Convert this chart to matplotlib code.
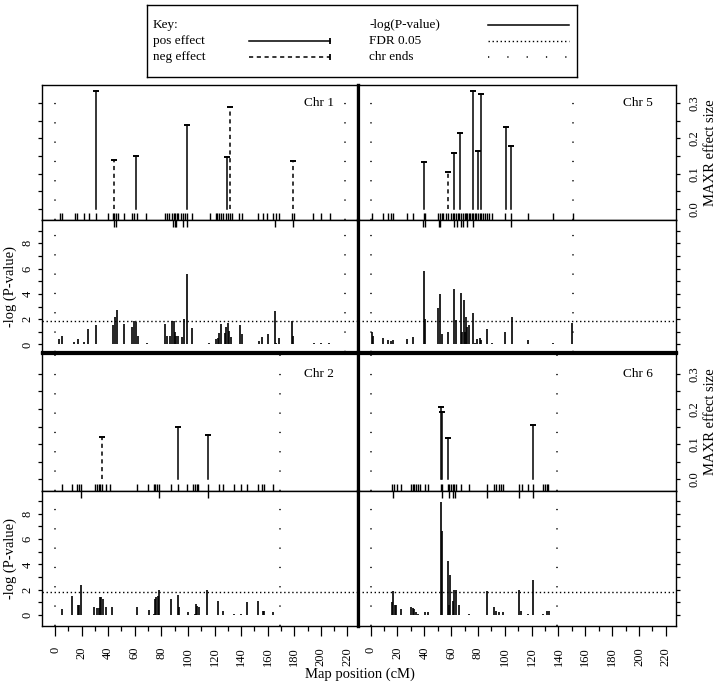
import matplotlib.pyplot as plt
import numpy as np
from matplotlib.ticker import FixedLocator, MultipleLocator, FormatStrFormatter

plt.rcParams['font.family'] = ['Liberation Serif', 'DejaVu Serif']
plt.rcParams['lines.scale_dashes'] = False
plt.rcParams['font.size'] = 9

# ---------------- data (positions in cM) ----------------
FDR = 1.85

chr1_markers = [3.5, 5.5, 15, 16.8, 21.7, 25.5, 30.5, 40, 43.7, 44.7, 45.7, 47.2, 52.2, 58, 59.7,
                61.7, 68.7, 82.9, 84.2, 85.4, 87.9, 89.2, 90.4, 91.7, 92.9, 94.7, 96.2, 97.9, 99.2,
                103.4, 116.6, 120.9, 122.1, 123.4, 124.6, 126.6, 128.4, 129.9, 131.6, 133.3, 138.4,
                140.4, 153.1, 156.6, 159.6, 164, 166.1, 168.5, 178.3, 179.5, 194, 200.3, 207]
chr1_lower_ticks = [44.7, 46.2, 88.7, 90, 91.2, 96.5, 99.2, 165.6, 179]
chr1_scan_cm = [3.3, 5.3, 14.5, 17, 22, 25, 30.5, 40.7, 43.7, 45, 46.5, 52, 57.7, 59.5, 60.7, 62.4,
                69, 82.7, 84.4, 86.2, 88.2, 89.2, 90.2, 91.2, 92.4, 95.6, 96.9, 99.2, 103.4, 115.9,
                121.1, 122.4, 123.6, 124.6, 127.9, 128.6, 129.9, 131.1, 132.1, 139.1, 140.4, 153.6,
                156.1, 159.9, 165.3, 166.1, 168.3, 178.6, 179.3, 194.5, 200.3, 206.5]
chr1_scan_logp = [0.45, 0.66, 0.2, 0.4, 0.2, 1.2, 1.5, 0.05, 1.5, 2.2, 2.7, 1.6, 1.4, 1.85, 1.8, 0.65,
                  0.1, 1.65, 0.65, 0.65, 1.85, 1.85, 1.0, 0.7, 0.7, 0.6, 2.0, 5.6, 1.3, 0.1,
                  0.4, 0.5, 0.9, 1.6, 0.9, 1.4, 1.7, 1.1, 0.6, 1.5, 0.8, 0.3,
                  0.6, 0.8, 2.65, 0.1, 0.55, 1.85, 0.65, 0.1, 0.1, 0.1]
chr1_eff_cm = [30.5, 44.2, 60.7, 99.2, 129.4, 131.9, 178.8]
chr1_eff_size = [0.335, 0.138, 0.149, 0.237, 0.147, 0.288, 0.136]
chr1_eff_neg = [False, True, False, False, False, True, True]
chr1_end = 218.5

chr5_markers = [1.2, 9.5, 13.2, 15, 17, 27, 31.2, 39.5, 40.7, 50.5, 51.7, 53.2, 54.2, 56.2, 57.5, 60,
                61.7, 62.5, 63.7, 65, 66.2, 67.5, 68.7, 70, 71.2, 72, 73, 74.2, 75.5, 76.2, 77.5, 78.8,
                80, 81.2, 82.5, 83.7, 85, 86.7, 88.2, 90.5, 100.5, 104.5, 117, 136.2, 150.5]
chr5_lower_ticks = [39.2, 40.7, 50.7, 51.7, 62.5, 64.2, 67.5, 69.2, 71.7, 76.2, 104.5]
chr5_scan_cm = [1.2, 1.7, 9.5, 13.2, 15, 17, 27, 31.2, 39.5, 40.7, 50.5, 51.7, 53.2, 57.5, 62.5, 63.7,
                67, 68.2, 69.5, 70.5, 71.2, 72, 73, 76.2, 77.5, 79.2, 81.2, 82.5, 87, 90.5, 100.5,
                105, 117, 136.2, 150.3]
chr5_scan_logp = [1.0, 0.7, 0.5, 0.35, 0.3, 0.35, 0.4, 0.6, 5.8, 2.0, 2.9, 4.0, 0.8, 1.0, 4.4, 1.9,
                  4.07, 1.0, 3.55, 1.0, 2.2, 1.4, 1.5, 2.5, 0.15, 0.4, 0.5, 0.35, 1.2, 0.1, 1.0,
                  2.17, 0.35, 0.1, 1.7]
chr5_eff_cm = [40, 57.5, 62.5, 66.8, 76.2, 80, 82.5, 100.7, 104.3]
chr5_eff_size = [0.134, 0.106, 0.16, 0.216, 0.334, 0.164, 0.325, 0.233, 0.178]
chr5_eff_neg = [False, True, False, False, False, False, False, False, False]
chr5_end = 151

chr2_markers = [5.5, 12.5, 16.8, 18, 19.2, 30, 31.7, 33, 34.2, 35.5, 38, 41.7, 61.7, 70, 74.7, 75.4,
                76.7, 77.9, 87.2, 92.4, 99.2, 104.1, 105.4, 106.7, 107.9, 114.9, 123.4, 126.6, 134.6,
                139.6, 144.1, 152.4, 155.8, 157.1, 164]
chr2_lower_ticks = [19.2, 78, 114.8]
chr2_scan_cm = [5.5, 13, 17.2, 18, 19.3, 29.7, 31.7, 33, 33.7, 34.7, 36, 38, 42.5, 61.7, 70.4, 74.7,
                75.4, 76.2, 77.2, 78.2, 87.2, 92.4, 93.4, 99.9, 105.4, 106.1, 107.1, 108.4, 114.6,
                122.8, 126.6, 134.8, 139.6, 144.1, 152.4, 156.6, 157.3, 164]
chr2_scan_logp = [0.47, 1.5, 0.8, 0.8, 2.37, 0.66, 0.53, 0.53, 1.45, 1.4, 1.3, 0.6, 0.6, 0.6, 0.4, 0.1,
                  1.3, 1.45, 1.5, 1.95, 1.3, 1.6, 0.6, 0.2, 0.1, 0.9, 0.7, 0.66, 1.95,
                  1.1, 0.3, 0.05, 0.05, 1.0, 1.1, 0.3, 0.3, 0.2]
chr2_eff_cm = [35.5, 92.4, 114.9]
chr2_eff_size = [0.121, 0.15, 0.125]
chr2_eff_neg = [True, False, False]
chr2_end = 169.6

chr6_markers = [16.2, 17.5, 19.5, 22.5, 30, 31.2, 32.5, 33.7, 35.5, 36.7, 40.7, 42.5, 52.5, 53.2, 57.5,
                58.7, 60, 61.2, 62.5, 63.7, 67, 73, 86.7, 92, 93.7, 95.7, 97, 98.7, 110.5, 112.5, 117,
                121.2, 128.7, 130, 131.2, 132.5]
chr6_lower_ticks = [17, 53, 58.7, 61.2, 63, 86.7, 110.5, 120.8]
chr6_scan_cm = [15.7, 17, 18.2, 19.2, 22.5, 30, 31.2, 32.5, 33.7, 35.5, 40.7, 42.5, 52.5, 53.2, 57.5,
                58.7, 59.5, 61.2, 62.5, 63.7, 66.2, 73, 86.7, 92, 93.7, 95.7, 98.7, 110.5, 111.7, 117,
                120.8, 128.7, 131.7, 133]
chr6_scan_logp = [1.0, 1.9, 0.8, 0.8, 0.47, 0.66, 0.53, 0.5, 0.2, 0.1, 0.2, 0.2, 8.96, 6.6, 4.3,
                  0.8, 3.16, 1.1, 1.97, 1.97, 0.8, 0.1, 1.9, 0.66, 0.35, 0.26, 0.26, 1.97, 0.35, 0.05,
                  2.77, 0.05, 0.3, 0.3]
chr6_eff_cm = [52.5, 53.2, 58, 120.8]
chr6_eff_size = [0.204, 0.19, 0.118, 0.153]
chr6_eff_neg = [False, False, False, False]
chr6_end = 138.8

x_ticks = list(range(0, 221, 20))

# ---------------- layout (pixels of a 720x692 canvas) ----------------
W, H = 720, 692
col_x = [(42, 357.5), (357.5, 676)]
row_upper = [(85, 220), (352.5, 491)]
row_lower = [(220, 352.5), (491, 626)]
upper_ylim = [(-0.031, 0.351), (-0.033, 0.36)]
lower_ylim = [(-0.635, 9.84), (-0.87, 9.8)]
XLIM = (-9.8, 227.6)

chromosomes = [
    ("Chr 1", 0, 0, chr1_markers, chr1_lower_ticks, chr1_scan_cm, chr1_scan_logp,
     chr1_eff_cm, chr1_eff_size, chr1_eff_neg, chr1_end),
    ("Chr 5", 0, 1, chr5_markers, chr5_lower_ticks, chr5_scan_cm, chr5_scan_logp,
     chr5_eff_cm, chr5_eff_size, chr5_eff_neg, chr5_end),
    ("Chr 2", 1, 0, chr2_markers, chr2_lower_ticks, chr2_scan_cm, chr2_scan_logp,
     chr2_eff_cm, chr2_eff_size, chr2_eff_neg, chr2_end),
    ("Chr 6", 1, 1, chr6_markers, chr6_lower_ticks, chr6_scan_cm, chr6_scan_logp,
     chr6_eff_cm, chr6_eff_size, chr6_eff_neg, chr6_end),
]

fig = plt.figure(figsize=(W / 100, H / 100), dpi=100)


def add_ax(xr, yr):
    x0, x1 = xr
    y0, y1 = yr
    return fig.add_axes([x0 / W, 1 - y1 / H, (x1 - x0) / W, (y1 - y0) / H])


DOTS = (0, (0.9, 13))
FINE_DOTS = (0, (1.0, 1.9))
DASH = (0, (3.0, 2.6))
TICK_PX = 7

for name, r, c, markers, low_ticks, scan_cm, scan_lp, eff_cm, eff_sz, eff_neg, chr_end in chromosomes:
    ax_u = add_ax(col_x[c], row_upper[r])
    ax_l = add_ax(col_x[c], row_lower[r])
    for ax in (ax_u, ax_l):
        ax.set_xlim(*XLIM)
        for sp in ax.spines.values():
            sp.set_linewidth(1.0)
        ax.spines['right' if c == 0 else 'left'].set_linewidth(2.3)
        for xe in (0, chr_end):
            ax.axvline(xe, color='black', lw=1.1, linestyle=DOTS)
    if r == 0:
        ax_l.spines['bottom'].set_linewidth(2.3)
    else:
        ax_u.spines['top'].set_linewidth(2.3)

    # upper: effect sizes
    ax_u.set_ylim(*upper_ylim[r])
    h_u = row_upper[r][1] - row_upper[r][0]
    ax_u.vlines(markers, 0, TICK_PX / h_u, transform=ax_u.get_xaxis_transform(),
                color='black', lw=1.0)
    for xc, sz, neg in zip(eff_cm, eff_sz, eff_neg):
        ax_u.plot([xc, xc], [0, sz], color='black', lw=1.1,
                  linestyle=DASH if neg else '-')
        ax_u.plot([xc], [sz], linestyle='none', marker='_', ms=4, mew=1.4, color='black')
    ax_u.text(210, 0.3, name, ha='right', va='center', fontsize=9.5)
    ax_u.set_xticks([])

    # lower: -log(P)
    ax_l.set_ylim(*lower_ylim[r])
    h_l = row_lower[r][1] - row_lower[r][0]
    ax_l.vlines(low_ticks, 1, 1 - TICK_PX / h_l, transform=ax_l.get_xaxis_transform(),
                color='black', lw=1.0)
    ax_l.vlines(scan_cm, 0, scan_lp, color='black', lw=1.2)
    ax_l.axhline(FDR, color='black', lw=1.0, linestyle=FINE_DOTS)

    if c == 0:
        ax_u.yaxis.set_major_locator(FixedLocator(np.arange(0, 0.31, 0.05)))
        ax_u.tick_params(axis='y', left=True, labelleft=False, length=3, width=0.9)
        ax_l.yaxis.set_major_locator(MultipleLocator(2))
        ax_l.yaxis.set_minor_locator(MultipleLocator(1))
        ax_l.tick_params(axis='y', which='both', length=3, width=0.9,
                         labelrotation=90, pad=3)
        for lbl in ax_l.get_yticklabels():
            lbl.set_va('center')
    else:
        ax_u.yaxis.tick_right()
        ax_u.yaxis.set_major_locator(FixedLocator([0, 0.1, 0.2, 0.3]))
        ax_u.yaxis.set_minor_locator(FixedLocator([0.05, 0.15, 0.25]))
        ax_u.yaxis.set_major_formatter(FormatStrFormatter('%.1f'))
        ax_u.tick_params(axis='y', which='both', length=3, width=0.9,
                         labelrotation=90, pad=6)
        for lbl in ax_u.get_yticklabels():
            lbl.set_va('center')
        ax_l.yaxis.tick_right()
        ax_l.yaxis.set_major_locator(MultipleLocator(1))
        ax_l.tick_params(axis='y', labelright=False, length=3, width=0.9)

    if r == 1:
        ax_l.set_xticks(x_ticks)
        ax_l.xaxis.set_minor_locator(MultipleLocator(10))
        ax_l.tick_params(axis='x', which='major', length=7, width=0.9,
                         labelrotation=90, pad=8)
        ax_l.tick_params(axis='x', which='minor', length=3.5, width=0.9)
    else:
        ax_l.set_xticks([])

# axis labels
for yr in row_lower:
    fig.text(10 / W, 1 - (yr[0] + yr[1]) / 2 / H, "-log (P-value)", rotation=90,
             ha='center', va='center', fontsize=10.5)
for yr in row_upper:
    fig.text(711 / W, 1 - (yr[0] + yr[1]) / 2 / H, "MAXR effect size", rotation=90,
             ha='center', va='center', fontsize=10.5)
fig.text(360 / W, 1 - 674 / H, "Map position (cM)", ha='center', va='center', fontsize=10.5)

# key box
kx0, kx1, ky0, ky1 = 147, 577, 5, 77
key = fig.add_axes([kx0 / W, 1 - ky1 / H, (kx1 - kx0) / W, (ky1 - ky0) / H])
key.set_xlim(kx0, kx1)
key.set_ylim(ky1, ky0)
key.set_xticks([])
key.set_yticks([])
for sp in key.spines.values():
    sp.set_linewidth(1.0)

rows_y = [25, 41, 57]
key.text(153, rows_y[0], "Key:", va='center', fontsize=9.5)
key.text(153, rows_y[1], "pos effect", va='center', fontsize=9.5)
key.text(153, rows_y[2], "neg effect", va='center', fontsize=9.5)
key.plot([249, 330], [rows_y[1]] * 2, color='black', lw=1.1)
key.plot([330], [rows_y[1]], marker='|', ms=4, mew=1.3, color='black')
key.plot([249, 330], [rows_y[2]] * 2, color='black', lw=1.1, linestyle=DASH)
key.plot([330], [rows_y[2]], marker='|', ms=4, mew=1.3, color='black')

key.text(369, rows_y[0], "-log(P-value)", va='center', fontsize=9.5)
key.text(369, rows_y[1], "FDR 0.05", va='center', fontsize=9.5)
key.text(369, rows_y[2], "chr ends", va='center', fontsize=9.5)
key.plot([488, 569], [rows_y[0]] * 2, color='black', lw=1.1)
key.plot([488, 569], [rows_y[1]] * 2, color='black', lw=1.0, linestyle=FINE_DOTS)
key.plot([488, 569], [rows_y[2]] * 2, color='black', lw=1.1, linestyle=DOTS)

fig.savefig("out.png", dpi=100)
